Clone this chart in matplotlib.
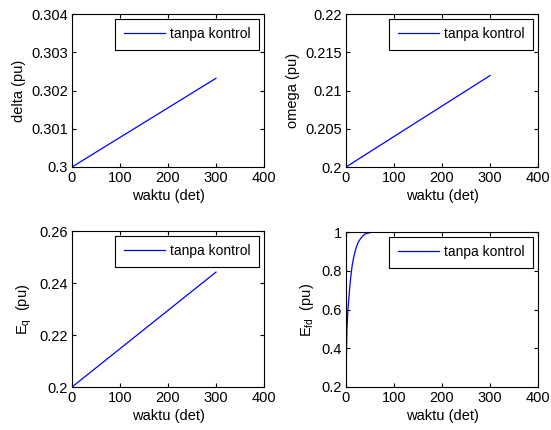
import matplotlib
matplotlib.use('Agg')
import matplotlib.pyplot as plt

plt.rcParams['font.family'] = ['Liberation Sans', 'DejaVu Sans']
plt.rcParams['mathtext.fontset'] = 'custom'
plt.rcParams['mathtext.rm'] = 'Liberation Sans'
plt.rcParams['mathtext.it'] = 'Liberation Sans'

# data
t_lin = [0, 300]
delta = [0.3, 0.30232]
omega = [0.2, 0.21195]
eq = [0.2, 0.2442]
t_efd = [0, 1, 2, 4, 6, 8, 10, 13, 16, 20, 25, 30, 35, 40, 50, 60, 300]
efd = [0.2, 0.38, 0.5, 0.6, 0.66, 0.72, 0.77, 0.83, 0.87, 0.91, 0.945, 0.965, 0.98, 0.99, 0.997, 1.0, 1.0]

legend_label = 'tanpa kontrol'
xlabel = 'waktu (det)'

fig = plt.figure(figsize=(5.51, 4.30), dpi=100)

W, H = 551.0, 430.0
def box(l, r, t, b):
    return [l / W, 1 - b / H, (r - l) / W, (b - t) / H]

panels = [
    (box(72, 264, 14, 167), t_lin, delta, 'delta (pu)', (0.3, 0.304), [0.3, 0.301, 0.302, 0.303, 0.304], ['0.3', '0.301', '0.302', '0.303', '0.304']),
    (box(346, 538, 14, 167), t_lin, omega, 'omega (pu)', (0.2, 0.22), [0.2, 0.205, 0.21, 0.215, 0.22], ['0.2', '0.205', '0.21', '0.215', '0.22']),
    (box(72, 264, 231, 387), t_lin, eq, r'$\mathregular{E_q}$  (pu)', (0.2, 0.26), [0.2, 0.22, 0.24, 0.26], ['0.2', '0.22', '0.24', '0.26']),
    (box(346, 538, 232, 387), t_efd, efd, r'$\mathregular{E_{fd}}$  (pu)', (0.2, 1.0), [0.2, 0.4, 0.6, 0.8, 1.0], ['0.2', '0.4', '0.6', '0.8', '1']),
]

for rect, x, y, ylab, ylim, yt, ytl in panels:
    ax = fig.add_axes(rect)
    ax.plot(x, y, color='#0000ff', lw=0.9, label=legend_label)
    ax.set_xlim(0, 400)
    ax.set_ylim(*ylim)
    ax.set_xticks([0, 100, 200, 300, 400])
    ax.set_yticks(yt)
    ax.set_yticklabels(ytl)
    ax.tick_params(direction='in', top=True, right=True, labelsize=10.5, length=3, pad=3)
    ax.set_xlabel(xlabel, fontsize=10.5, labelpad=3)
    ax.set_ylabel(ylab, fontsize=10.5, labelpad=4)
    for s in ax.spines.values():
        s.set_linewidth(0.8)
    leg = ax.legend(loc='upper right', fontsize=10, fancybox=False, framealpha=1,
                    edgecolor='black', borderpad=0.6, handlelength=3.0,
                    handletextpad=0.35, borderaxespad=0.35)
    leg.get_frame().set_linewidth(0.8)

fig.savefig('out.png', dpi=100)
